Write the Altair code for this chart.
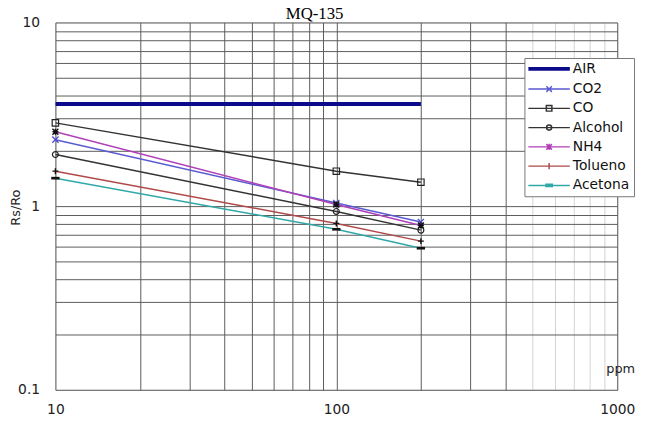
import altair as alt
import pandas as pd

# ---------------- data ----------------
ppm = [10, 100, 200]
series = ["AIR", "CO2", "CO", "Alcohol", "NH4", "Tolueno", "Acetona"]
air = [3.6, 3.6, 3.6]
co2 = [2.30, 1.04, 0.82]
co = [2.84, 1.55, 1.35]
alcohol = [1.91, 0.935, 0.74]
nh4 = [2.54, 1.02, 0.785]
tolueno = [1.55, 0.805, 0.645]
acetona = [1.42, 0.748, 0.59]

x_grid = [10, 20, 30, 40, 50, 60, 70, 80, 90, 100, 200, 300, 400, 500, 600, 700, 800, 900, 1000]
y_grid = [0.1, 0.2, 0.3, 0.4, 0.5, 0.6, 0.7, 0.8, 0.9, 1, 2, 3, 4, 5, 6, 7, 8, 9, 10]

values = {"AIR": air, "CO2": co2, "CO": co, "Alcohol": alcohol,
          "NH4": nh4, "Tolueno": tolueno, "Acetona": acetona}
rows = []
for s in series:
    for x, v in zip(ppm, values[s]):
        rows.append({"series": s, "ppm": x, "rs": v})
df = pd.DataFrame(rows)

# ---------------- styles ----------------
line_colors = ["#0a0a8a", "#5a5ad2", "#333333", "#333333", "#b040b8", "#b04a4a", "#30a8a8"]
line_widths = [4, 1.5, 1.5, 1.5, 1.5, 1.5, 1.5]

XP = "M-1,-1L1,1M-1,1L1,-1"
PLUS = "M-1,0H1M0,-1V1"
marker_styles = {
    "CO2": dict(shape=XP, filled=False, color="#4a4ad0", size=40, strokeWidth=1.3),
    "CO": dict(shape="square", filled=False, color="#222222", size=42, strokeWidth=1.2),
    "Alcohol": dict(shape="circle", filled=False, color="#222222", size=36, strokeWidth=1.2),
    "NH4": dict(shape=XP + PLUS, filled=False, color="#111111", size=36, strokeWidth=1.4),
    "Tolueno": dict(shape=PLUS, filled=False, color="#111111", size=36, strokeWidth=1.4),
    "Acetona": dict(shape="M-1.4,-0.45H1.4V0.45H-1.4Z", filled=True, color="#111111", size=36, strokeWidth=0),
}

L = "M-5.25,0H5.25"
legend_paths = [
    L,
    L + "M-0.7,-0.7L0.7,0.7M-0.7,0.7L0.7,-0.7",
    L + "M-0.7,-0.7H0.7V0.7H-0.7Z",
    L + "M-0.65,0A0.65,0.65 0 1,0 0.65,0A0.65,0.65 0 1,0 -0.65,0",
    L + "M-0.7,-0.7L0.7,0.7M-0.7,0.7L0.7,-0.7M0,-0.8V0.8",
    L + "M0,-0.8V0.8",
    L + "M-0.8,-0.3H0.8V0.3H-0.8Z",
]

FONT = "DejaVu Sans"

x_axis = alt.Axis(
    values=x_grid,
    title="ppm", titleX=572, titleY=-18, titleAlign="center", titleBaseline="alphabetic",
    titleFont=FONT, titleFontSize=13, titleFontWeight="normal", titleColor="#222222",
    labelExpr="datum.value == 10 || datum.value == 100 || datum.value == 1000 ? format(datum.value, 'd') : ''",
    labelFont=FONT, labelFontSize=14, labelColor="#222222", labelPadding=13,
    labelFlush=False, labelOverlap=False, ticks=False, domain=False,
    grid=True, gridWidth=1, gridOpacity=1,
    gridColor={"condition": {"test": "datum.value >= 500 && datum.value < 1000", "value": "#d2d2d2"},
               "value": "#5a5a5a"},
)
y_axis = alt.Axis(
    values=y_grid,
    title="Rs/Ro", titleX=-33, titleY=187, titleAngle=270, titleAlign="center", titleBaseline="bottom",
    titleFont=FONT, titleFontSize=13, titleFontWeight="normal", titleColor="#222222",
    labelExpr="datum.value == 10 ? '10' : datum.value == 1 ? '1' : datum.value == 0.1 ? '0.1' : ''",
    labelFont=FONT, labelFontSize=14, labelColor="#222222", labelPadding=16,
    labelFlush=False, labelOverlap=False, ticks=False, domain=False,
    grid=True, gridWidth=1, gridOpacity=1, gridColor="#5a5a5a",
)

x_enc = alt.X("ppm:Q", scale=alt.Scale(type="log", domain=[10, 1000]), axis=x_axis)
y_enc = alt.Y("rs:Q", scale=alt.Scale(type="log", domain=[0.1, 10]), axis=y_axis)

base = alt.Chart(df)

line_layers = []
for s, c, w in zip(series, line_colors, line_widths):
    line_layers.append(
        base.transform_filter(alt.datum.series == s).mark_line(
            color=c, strokeWidth=w, clip=True
        ).encode(x=x_enc, y=y_enc, order="ppm:Q")
    )

marker_layers = []
for s in series[1:]:
    st = marker_styles[s]
    marker_layers.append(
        base.transform_filter(alt.datum.series == s).mark_point(
            shape=st["shape"], filled=st["filled"], color=st["color"], size=st["size"],
            strokeWidth=st["strokeWidth"], opacity=1,
        ).encode(x=x_enc, y=y_enc)
    )

leg = alt.Legend(
    title=None, orient="none", legendX=475, legendY=36,
    labelFont=FONT, labelFontSize=14, labelColor="#111111",
    strokeColor="#777777", fillColor="white", padding=4,
    rowPadding=5.5, symbolSize=64, symbolOffset=14, labelOffset=17,
)
legend_layer = base.transform_filter("datum.ppm < 0").mark_point(filled=False, opacity=1).encode(
    x=x_enc, y=y_enc,
    shape=alt.Shape("series:N", scale=alt.Scale(domain=series, range=legend_paths), legend=leg),
    stroke=alt.Stroke("series:N", scale=alt.Scale(domain=series, range=line_colors), legend=leg),
    strokeWidth=alt.StrokeWidth("series:N", scale=alt.Scale(type="ordinal", domain=series, range=line_widths), legend=leg),
)

chart = alt.layer(*line_layers, *marker_layers, legend_layer).properties(
    width=569, height=372,
    autosize=alt.AutoSizeParams(type="none"),
    padding={"left": 48, "top": 12, "right": 20, "bottom": 32},
    title=alt.TitleParams("MQ-135", font="Liberation Serif", fontSize=17, fontWeight="normal",
                          color="#000000", anchor="middle", dx=-22, dy=10, offset=2),
).configure_view(stroke="#333333", strokeWidth=1.5).configure(background="white")

chart.save("out.html", embed_options={"renderer": "svg", "actions": False})
